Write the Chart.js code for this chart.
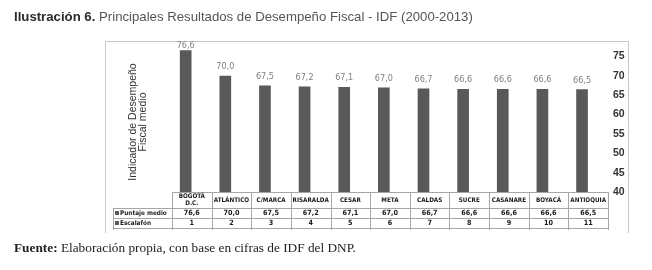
<!DOCTYPE html>
<html>
<head>
<meta charset="utf-8">
<script src="https://cdn.jsdelivr.net/npm/chart.js@4.4.1/dist/chart.umd.min.js"></script>
<style>
body{margin:0;background:#fff;}
#wrap{position:relative;width:652px;height:270px;overflow:hidden;}
#chart{position:absolute;left:0;top:0;}
#title{position:absolute;left:14px;top:9px;font-family:'Liberation Sans',Arial,sans-serif;font-size:13.2px;color:#555;white-space:nowrap;}
#title b{color:#2b2b2b;}
#source{position:absolute;left:14px;top:240px;font-family:'Liberation Serif',serif;font-size:13.3px;color:#222;white-space:nowrap;}
</style>
</head>
<body>
<div id="wrap">
  <canvas id="chart" width="652" height="270"></canvas>
  <div id="title"><b>Ilustración 6.</b> Principales Resultados de Desempeño Fiscal - IDF (2000-2013)</div>
  <div id="source"><b>Fuente:</b> Elaboración propia, con base en cifras de IDF del DNP.</div>
</div>
<script>
const departamentos = [["BOGOTÁ", "D.C."], "ATLÁNTICO", "C/MARCA", "RISARALDA", "CESAR", "META", "CALDAS", "SUCRE", "CASANARE", "BOYACÁ", "ANTIOQUIA"];
const puntajeMedio = [76.6, 70.0, 67.5, 67.2, 67.1, 67.0, 66.7, 66.6, 66.6, 66.6, 66.5];
const escalafon = [1, 2, 3, 4, 5, 6, 7, 8, 9, 10, 11];
const yTicks = [40, 45, 50, 55, 60, 65, 70, 75];
const yTitle = ["Indicador de Desempeño", "Fiscal medio"];

const barColor = "#595959";
const lineColor = "#a6a6a6";
const narrow = "'Liberation Sans Narrow', 'DejaVu Sans Condensed', 'Liberation Sans', sans-serif";

function fmt(v){
    return v.toFixed(1).replace(".", ",");
}

const tablePlugin = {
    id: "tablePlugin",
    afterDraw(chart){
        const ctx = chart.ctx;
        const x = chart.scales.x;
        const area = chart.chartArea;
        const n = departamentos.length;
        const colW = (x.right - x.left) / n;
        const top = area.bottom;
        const rows = [top, top + 16, top + 26, top + 36];
        const legendLeft = 113;

        ctx.save();

        // outer frame
        ctx.strokeStyle = "#c8c8c8";
        ctx.lineWidth = 1;
        ctx.beginPath();
        ctx.moveTo(105.5, 233);
        ctx.lineTo(105.5, 41.5);
        ctx.lineTo(628.5, 41.5);
        ctx.lineTo(628.5, 233);
        ctx.stroke();

        // table grid
        ctx.strokeStyle = lineColor;
        ctx.beginPath();
        ctx.moveTo(x.left, rows[0] + 0.5);
        ctx.lineTo(x.right, rows[0] + 0.5);
        for(let r = 1; r < rows.length; r++){
            ctx.moveTo(legendLeft, rows[r] + 0.5);
            ctx.lineTo(x.right, rows[r] + 0.5);
        }
        for(let i = 0; i <= n; i++){
            const cx = Math.round(x.left + colW * i) + 0.5;
            ctx.moveTo(cx, rows[0]);
            ctx.lineTo(cx, rows[3] + 2);
        }
        ctx.moveTo(legendLeft + 0.5, rows[1]);
        ctx.lineTo(legendLeft + 0.5, rows[3] + 2);
        ctx.stroke();

        // header names
        ctx.fillStyle = "#1a1a1a";
        ctx.textAlign = "center";
        ctx.textBaseline = "middle";
        ctx.font = "bold 6.3px " + narrow;
        departamentos.forEach((name, i) => {
            const cx = x.getPixelForValue(i);
            if(Array.isArray(name)){
                ctx.fillText(name[0], cx, rows[0] + 4.5);
                ctx.fillText(name[1], cx, rows[0] + 11.5);
            } else {
                ctx.fillText(name, cx, rows[0] + 8);
            }
        });

        // rows
        const series = [[chart.data.datasets[0], puntajeMedio.map(fmt)], [chart.data.datasets[1], escalafon.map(String)]];
        series.forEach(([ds, texts], r) => {
            const cy = (rows[r + 1] + rows[r + 2]) / 2;
            ctx.font = "bold 7.2px " + narrow;
            ctx.textAlign = "center";
            ctx.fillStyle = "#1a1a1a";
            texts.forEach((t, i) => ctx.fillText(t, x.getPixelForValue(i), cy + 0.5));
            ctx.fillStyle = ds.backgroundColor;
            ctx.fillRect(legendLeft + 2, cy - 2, 4, 4);
            ctx.fillStyle = "#1a1a1a";
            ctx.textAlign = "left";
            ctx.font = "bold 6.4px " + narrow;
            ctx.fillText(ds.label, legendLeft + 7, cy + 0.5);
        });

        // data labels
        const meta = chart.getDatasetMeta(0);
        ctx.font = "9px " + narrow;
        ctx.fillStyle = "#7f7f7f";
        ctx.textAlign = "center";
        meta.data.forEach((bar, i) => {
            const ly = Math.max(bar.y - 9, area.top + 9);
            ctx.fillText(fmt(puntajeMedio[i]), bar.x, ly);
        });

        // y title
        ctx.translate(138, 122);
        ctx.rotate(-Math.PI / 2);
        ctx.font = "10.5px 'Liberation Sans', sans-serif";
        ctx.fillStyle = "#333";
        ctx.textAlign = "center";
        ctx.fillText(yTitle[0], 0, -4.5);
        ctx.fillText(yTitle[1], 0, 5.5);

        ctx.restore();
    }
};

new Chart(document.getElementById("chart"), {
    type: "bar",
    data: {
        labels: departamentos,
        datasets: [{
            label: "Puntaje medio",
            data: puntajeMedio,
            backgroundColor: barColor,
            clip: 0
        }, {
            label: "Escalafón",
            data: escalafon,
            backgroundColor: barColor,
            clip: 0
        }]
    },
    options: {
        responsive: false,
        animation: false,
        categoryPercentage: 0.62,
        barPercentage: 0.95,
        layout: {
            padding: {left: 172, right: 14, top: 37, bottom: 78}
        },
        plugins: {
            legend: {display: false},
            tooltip: {enabled: false}
        },
        scales: {
            x: {
                display: false
            },
            y: {
                position: "right",
                min: 40,
                max: 80,
                afterBuildTicks: (scale) => {
                    scale.ticks = yTicks.map(v => ({value: v}));
                },
                afterFit: (scale) => {
                    scale.width = 30;
                },
                grid: {display: false, drawTicks: false},
                border: {display: false},
                ticks: {
                    padding: 5,
                    color: "#333",
                    font: {family: "'Liberation Sans', sans-serif", size: 10.5, weight: "bold"}
                }
            }
        }
    },
    plugins: [tablePlugin]
});
</script>
</body>
</html>
